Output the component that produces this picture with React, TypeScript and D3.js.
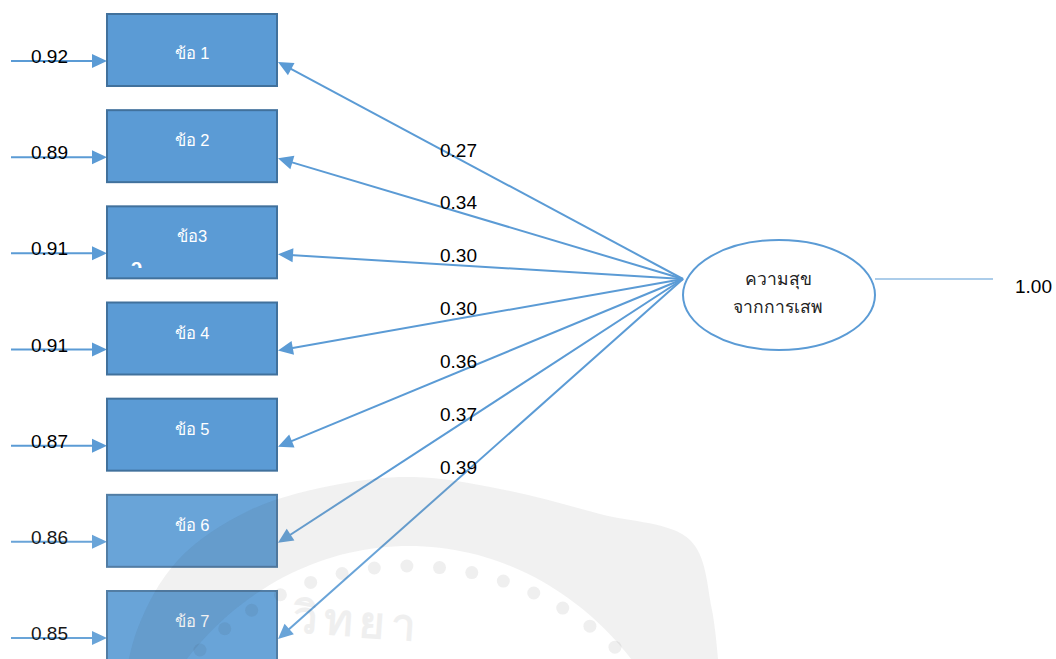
import React from 'react';
import * as d3 from 'd3';

// path model: 7 items loading on one latent factor
const items = ['ข้อ 1', 'ข้อ 2', 'ข้อ3', 'ข้อ 4', 'ข้อ 5', 'ข้อ 6', 'ข้อ 7'];
const loadings = [0.27, 0.34, 0.30, 0.30, 0.36, 0.37, 0.39];
const errorVars = [0.92, 0.89, 0.91, 0.91, 0.87, 0.86, 0.85];
const latentName = ['ความสุข', 'จากการเสพ'];
const latentVar = 1.0;
const sealText = 'วิทยา';

const W = 1056;
const H = 659;
const BLUE = '#5B9BD5';
const BOX_STROKE = '#41719C';
const FONT = '"Liberation Sans", Arial, "DejaVu Sans", sans-serif';

const boxX = 107;
const boxW = 170;
const boxH = 72;
const yTop = d3.scaleLinear().domain([0, items.length - 1]).range([14, 591]);
const latent = { cx: 779, cy: 295, rx: 96, ry: 55 };
const hub = { x: 683, y: 279 };

function head(tx: number, ty: number, fx: number, fy: number, len = 15, half = 7) {
  const a = Math.atan2(ty - fy, tx - fx);
  const bx = tx - len * Math.cos(a);
  const by = ty - len * Math.sin(a);
  const px = -Math.sin(a) * half;
  const py = Math.cos(a) * half;
  return `M${tx},${ty}L${bx + px},${by + py}L${bx - px},${by - py}Z`;
}

// faint university seal in the background (decoration only)
function Seal() {
  const c = { x: 409, y: 868 };
  const outer: [number, number][] = [
    [118, 720], [137, 630], [178, 560], [250, 510], [340, 484], [414, 477],
    [500, 489], [600, 514], [690, 540], [712, 610], [722, 720],
  ];
  const line = d3.line().curve(d3.curveCatmullRom);
  const innerRx = 292;
  const innerRy = 322;
  const inner = d3.range(0, 361, 6).map((deg) => {
    const t = (deg * Math.PI) / 180;
    return [c.x + innerRx * Math.cos(t), c.y + innerRy * Math.sin(t)] as [number, number];
  });
  const band = line(outer) + 'Z' + line(inner) + 'Z';
  const dots = d3.range(-140, -39, 6.2).map((deg) => {
    const t = (deg * Math.PI) / 180;
    return { x: c.x + 302 * Math.cos(t), y: c.y + 302 * Math.sin(t) };
  });
  return (
    <g pointerEvents="none">
      <rect x={0} y={480} width={W} height={H - 480} fill="#fff" opacity={0.09} />
      <path d={band} fill="#333" fillRule="evenodd" opacity={0.065} />
      {dots.map((d, i) => (
        <circle key={i} cx={d.x} cy={d.y} r={6.5} fill="#333" opacity={0.08} />
      ))}
      <text
        x={292}
        y={632}
        fontSize={44}
        fontFamily={FONT}
        fontWeight="bold"
        fill="#333"
        opacity={0.07}
        letterSpacing={6}
        transform="rotate(4 292 632)"
      >
        {sealText}
      </text>
    </g>
  );
}

export default function App() {
  const rows = items.map((name, i) => {
    const top = yTop(i);
    const ay = top + 48;
    const tipX = boxX + boxW + 1;
    const k = (460 - hub.x) / (tipX - hub.x);
    return {
      name,
      i,
      top,
      ey: top + 47,
      ay,
      tipX,
      loading: loadings[i],
      err: errorVars[i],
      labelY: hub.y + (ay - hub.y) * k - 3,
    };
  });

  return (
    <svg
      width={W}
      height={H}
      style={{ position: 'absolute', left: 0, top: 0, background: '#fff' }}
      fontFamily={FONT}
    >
      <defs>
        <clipPath id="stray">
          <rect x={120} y={250} width={40} height={18} />
        </clipPath>
      </defs>

      {/* error terms */}
      {rows.map((r) => (
        <g key={'e' + r.i}>
          <line x1={11} x2={boxX - 12} y1={r.ey} y2={r.ey} stroke={BLUE} strokeWidth={2} />
          <path d={head(boxX, r.ey, 11, r.ey)} fill={BLUE} />
          <text x={31} y={r.ey + 2} fontSize={19} fill="#000">
            {d3.format('.2f')(r.err)}
          </text>
        </g>
      ))}

      {/* observed items */}
      {rows.map((r) => (
        <g key={'b' + r.i}>
          <rect x={boxX} y={r.top} width={boxW} height={boxH} fill={BLUE} stroke={BOX_STROKE} strokeWidth={2} />
          <text x={boxX + boxW / 2} y={r.top + (r.i === 0 ? 45 : 36)} fontSize={16.5} fill="#fff" textAnchor="middle">
            {r.name}
          </text>
        </g>
      ))}
      <text x={131} y={273} fontSize={20} fontWeight="bold" fill="#fff" clipPath="url(#stray)">
        {'\u0254'}
      </text>

      {/* loadings */}
      {rows.map((r) => {
        const a = Math.atan2(r.ay - hub.y, r.tipX - hub.x);
        return (
          <g key={'l' + r.i}>
            <line
              x1={hub.x}
              y1={hub.y}
              x2={r.tipX - 12 * Math.cos(a)}
              y2={r.ay - 12 * Math.sin(a)}
              stroke={BLUE}
              strokeWidth={2}
            />
            <path d={head(r.tipX, r.ay, hub.x, hub.y)} fill={BLUE} />
            <text x={440} y={r.labelY} fontSize={19} fill="#000">
              {d3.format('.2f')(r.loading)}
            </text>
          </g>
        );
      })}

      {/* latent factor */}
      <ellipse cx={latent.cx} cy={latent.cy} rx={latent.rx} ry={latent.ry} fill="#fff" stroke={BLUE} strokeWidth={2} />
      {latentName.map((t, i) => (
        <text key={t} x={latent.cx - 1} y={285 + i * 28} fontSize={17.5} fill="#222" textAnchor="middle">
          {t}
        </text>
      ))}
      <line x1={latent.cx + latent.rx} x2={993} y1={279} y2={279} stroke={BLUE} strokeWidth={1.2} />
      <text x={1015} y={293} fontSize={19} fill="#000">
        {d3.format('.2f')(latentVar)}
      </text>

      <Seal />
    </svg>
  );
}
